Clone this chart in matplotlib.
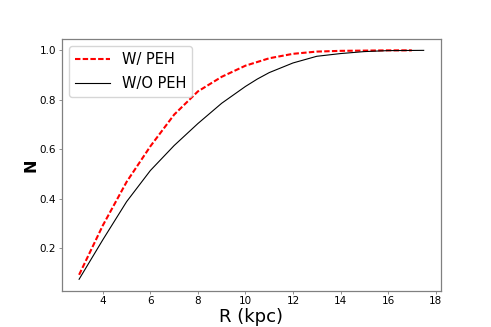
import matplotlib
matplotlib.use("Agg")
import matplotlib.pyplot as plt

# Kumulyatyvni kryvi
r_peh = [3, 4, 5, 6, 7, 8, 9, 10, 11, 12, 13, 14, 15, 16, 17]
n_peh = [0.092, 0.292, 0.468, 0.612, 0.740, 0.834, 0.893, 0.938, 0.968, 0.986, 0.995, 0.998, 0.999, 1.0, 1.0]

r_nopeh = [3, 4, 5, 6, 7, 8, 9, 10, 10.5, 11, 12, 13, 14, 15, 16, 17.5]
n_nopeh = [0.074, 0.234, 0.388, 0.514, 0.615, 0.704, 0.786, 0.854, 0.884, 0.910, 0.949, 0.976, 0.987, 0.995, 0.999, 1.0]

fig = plt.figure(figsize=(4.91, 3.27), dpi=100)
ax = fig.add_axes([0.126, 0.111, 0.772, 0.770])

ax.plot(r_peh, n_peh, 'r--', linewidth=1.5, dashes=(2.6, 1.1), label='W/ PEH')
ax.plot(r_nopeh, n_nopeh, 'k-', linewidth=0.8, label='W/O PEH')

ax.set_xticks([4, 6, 8, 10, 12, 14, 16, 18])
ax.set_yticks([0.2, 0.4, 0.6, 0.8, 1.0])
ax.tick_params(labelsize=7.5, length=2, width=0.6, color='gray', pad=2)
for s in ax.spines.values():
    s.set_color('gray')
    s.set_linewidth(0.9)

ax.set_xlabel('R (kpc)', fontsize=13, labelpad=1)
ax.set_ylabel('N', fontsize=11.5, fontweight='bold', labelpad=1)
ax.legend(loc='upper left', fontsize=10.5, handlelength=2.4, labelspacing=0.6)

fig.savefig('out.png', dpi=100)
